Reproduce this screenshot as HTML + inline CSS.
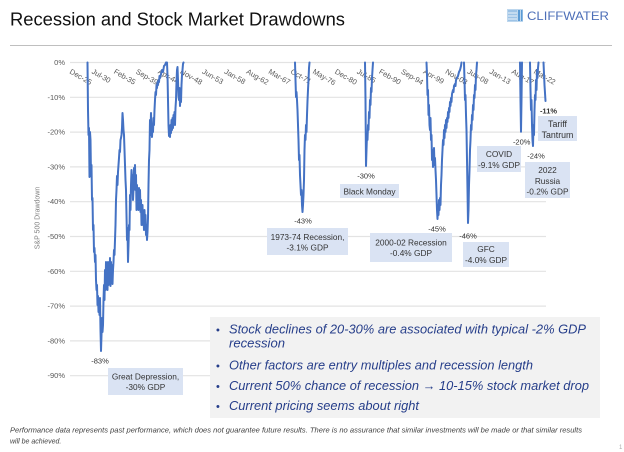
<!DOCTYPE html>
<html>
<head>
<meta charset="utf-8">
<style>
html,body{margin:0;padding:0;background:#fff;}
svg{display:block;}
text{font-family:"Liberation Sans",Arial,sans-serif;}
</style>
</head>
<body>
<svg width="624" height="452" viewBox="0 0 624 452" xmlns="http://www.w3.org/2000/svg">
<rect width="624" height="452" fill="#fff"/>
<!-- Title -->
<text x="10" y="25.5" font-size="18.5" fill="#111" textLength="335" lengthAdjust="spacingAndGlyphs">Recession and Stock Market Drawdowns</text>
<!-- Logo -->
<g>
<rect x="507" y="9" width="16" height="13" fill="#bdd7ee"/>
<rect x="508" y="10" width="9" height="11" fill="#9dc3e6"/>
<rect x="518" y="10" width="2" height="11" fill="#5b9bd5"/>
<rect x="521" y="10" width="1.5" height="11" fill="#5b9bd5"/>
<line x1="508" y1="13" x2="517" y2="13" stroke="#fff" stroke-width="0.8"/>
<line x1="508" y1="16" x2="517" y2="16" stroke="#fff" stroke-width="0.8"/>
<line x1="508" y1="19" x2="517" y2="19" stroke="#fff" stroke-width="0.8"/>
</g>
<text x="527" y="20" font-size="11.5" fill="#4d6fb8" textLength="82" lengthAdjust="spacingAndGlyphs">CLIFFWATER</text>
<!-- separator -->
<line x1="10" y1="45.5" x2="612" y2="45.5" stroke="#bfbfbf" stroke-width="1"/>

<!-- gridlines -->
<g stroke="#e3e3e3" stroke-width="1.2">
<line x1="70" y1="62.5" x2="546" y2="62.5"/>
<line x1="70" y1="97.3" x2="546" y2="97.3"/>
<line x1="70" y1="132.1" x2="546" y2="132.1"/>
<line x1="70" y1="166.9" x2="546" y2="166.9"/>
<line x1="70" y1="201.7" x2="546" y2="201.7"/>
<line x1="70" y1="236.5" x2="546" y2="236.5"/>
<line x1="70" y1="271.3" x2="546" y2="271.3"/>
<line x1="70" y1="306.1" x2="546" y2="306.1"/>
<line x1="70" y1="340.9" x2="546" y2="340.9"/>
<line x1="70" y1="375.7" x2="546" y2="375.7"/>
</g>
<!-- y labels -->
<g font-size="7.5" fill="#595959" text-anchor="end">
<text x="65" y="65">0%</text>
<text x="65" y="99.8">-10%</text>
<text x="65" y="134.6">-20%</text>
<text x="65" y="169.4">-30%</text>
<text x="65" y="204.2">-40%</text>
<text x="65" y="239">-50%</text>
<text x="65" y="273.8">-60%</text>
<text x="65" y="308.6">-70%</text>
<text x="65" y="343.4">-80%</text>
<text x="65" y="378.2">-90%</text>
</g>
<text transform="translate(39.5,218) rotate(-90)" font-size="7" fill="#7f7f7f" text-anchor="middle">S&amp;P 500 Drawdown</text>

<!-- date labels -->
<g font-size="7.5" fill="#595959">
<text transform="translate(69,73) rotate(30)">Dec-25</text>
<text transform="translate(91.1,73) rotate(30)">Jul-30</text>
<text transform="translate(113.2,73) rotate(30)">Feb-35</text>
<text transform="translate(135.3,73) rotate(30)">Sep-39</text>
<text transform="translate(157.4,73) rotate(30)">Apr-44</text>
<text transform="translate(179.5,73) rotate(30)">Nov-48</text>
<text transform="translate(201.6,73) rotate(30)">Jun-53</text>
<text transform="translate(223.7,73) rotate(30)">Jan-58</text>
<text transform="translate(245.8,73) rotate(30)">Aug-62</text>
<text transform="translate(267.9,73) rotate(30)">Mar-67</text>
<text transform="translate(290,73) rotate(30)">Oct-71</text>
<text transform="translate(312.1,73) rotate(30)">May-76</text>
<text transform="translate(334.2,73) rotate(30)">Dec-80</text>
<text transform="translate(356.3,73) rotate(30)">Jul-85</text>
<text transform="translate(378.4,73) rotate(30)">Feb-90</text>
<text transform="translate(400.5,73) rotate(30)">Sep-94</text>
<text transform="translate(422.6,73) rotate(30)">Apr-99</text>
<text transform="translate(444.7,73) rotate(30)">Nov-03</text>
<text transform="translate(466.8,73) rotate(30)">Jun-08</text>
<text transform="translate(488.9,73) rotate(30)">Jan-13</text>
<text transform="translate(511,73) rotate(30)">Aug-17</text>
<text transform="translate(533.1,73) rotate(30)">Mar-22</text>
</g>

<!-- series -->
<g fill="none" stroke="#4472c4" stroke-width="2" stroke-linejoin="round" stroke-linecap="round">
<polyline points="87.5,62.5 88,110 88.5,135 89,128 89.5,177 90,132 90.5,140 91,176 91.5,165 92,200 92.5,198 93,230 93.5,225 94,252 94.5,248 95,262 95.5,255 96,280 96.5,290 97,285 97.5,305 98,296 98.5,312 99,300 99.5,315 100,298 100.5,330 101,351 101.5,335 102,318 102.5,332 103,325 103.5,300 104,285 104.5,300 105,270 105.5,290 106,262 106.5,280 107,268 107.5,290 108,262 108.5,285 109,270 109.5,282 110,258 110.5,286 111,262 111.5,278 112,265 112.5,284 113,270 113.5,262 114,250 114.5,255 115,240 115.5,225 116,200 116.5,190 117,176 117.5,185 118,172 118.5,165 119,158 119.5,150 120,152 120.5,140 121,138 121.5,135 122,128 122.5,113 123,120 123.5,130 124,135 124.5,150 125,165 125.5,180 126,190 126.5,215 127,240 127.5,228 128,262 128.5,245 129,225 129.5,230 130,195 130.5,210 131,185 131.5,170 132,180 132.5,175 133,200 133.5,190 134,168 134.5,180 135,165 135.5,190 136,175 136.5,210 137,185 137.5,205 138,195 138.5,210 139,188 139.5,200 140,190 140.5,212 141,200 141.5,225 142,210 142.5,205 143,225 143.5,215 144,230 144.5,210 145,225 145.5,215 146,235 146.5,225 147,240 147.5,232 148,218 148.5,185 149,160 149.5,150 150,120 150.5,135 151,113 151.5,130 152,137 152.5,125 153,132 153.5,118 154,125 154.5,110 155,100 155.5,92 156,95 156.5,85 157,88 157.5,82 158,85 158.5,80 159,82 159.5,76 160,78 161,74 162,70 163,72 164,66 165,65 166,62.5 167,62.5 167.5,75 168,100 168.5,125 169,136 169.5,128 170,137 170.5,125 171,133 171.5,120 172,130 172.5,118 173,128 173.5,115 174,122 174.5,112 175,125 175.5,108 176,100 176.5,82 177,70 177.5,67 178,80 178.5,96 179,100 179.5,88 180,106 180.5,94 181,102 181.5,85 182,75 182.5,70 183,64 183.5,62.5"/>
<polyline points="295,62.5 295.5,80 296,97 296.5,92 297,100 297.5,110 298,125 298.5,140 299,160 299.5,155 300,175 300.5,185 301,195 301.5,190 302,205 302.5,212 303,205 303.5,195 304,180 304.5,150 305,135 305.5,140 306,125 306.5,132 307,115 307.5,101 308,90 308.5,80 309,68 309.5,62.5"/>
<polyline points="365,62.5 365.5,100 366,166 366.5,150 367,135 367.5,140 368,125 368.5,130 369,112 369.5,118 370,100 370.5,105 371,88 371.5,92 372,78 372.5,70 373,62.5"/>
<polyline points="426.5,62.5 427,75 427.5,95 428,90 428.5,115 429,105 429.5,125 430,130 430.5,118 431,140 431.5,135 432,160 432.5,150 433,167 433.5,155 434,148 434.5,165 435,158 435.5,170 436,180 436.5,195 437,210 437.5,219 438,205 438.5,215 439,200 439.5,210 440,198 440.5,205 441,185 441.5,175 442,160 442.5,150 443,140 443.5,145 444,130 444.5,138 445,125 445.5,132 446,120 446.5,128 447,118 447.5,122 448,112 448.5,118 449,108 449.5,112 450,102 450.5,106 451,98 451.5,102 452,94 453,90 453.5,92 454,86 455,84 455.5,86 456,80 457,78 458,76 459,72 460,70 461,66 461.5,62.5"/>
<polyline points="464,62.5 464.5,80 465,100 465.5,95 466,115 466.5,130 467,160 467.5,190 468,223 468.5,210 469,185 469.5,170 470,150 470.5,140 471,125 471.5,130 472,115 472.5,120 473,105 473.5,110 474,95 474.5,98 475,85 475.5,90 476,75 476.5,70 477,62.5"/>
<polyline points="520,62.5 520.5,100 521,131.7 521.5,100 522,62.5"/>
<polyline points="530,62.5 530.5,90 531,110 531.5,100 532,125 532.5,140 533,146 533.5,125 534,135 534.5,110 535,95 535.5,100 536,80 536.5,90 537,70 537.5,78 538,68 538.5,62.5"/>
<polyline points="543.5,62.5 544.5,85 545.5,101"/>
</g>

<!-- value labels -->
<g font-size="7.5" fill="#333" text-anchor="middle">
<text x="100" y="363.5">-83%</text>
<text x="303" y="223.5">-43%</text>
<text x="366" y="178.5">-30%</text>
<text x="437" y="231.5">-45%</text>
<text x="468" y="238.5">-46%</text>
<text x="521.7" y="144.5">-20%</text>
<text x="536" y="158.5">-24%</text>
<text x="548.5" y="113.5" font-weight="bold">-11%</text>
</g>

<!-- annotation boxes -->
<g fill="#dae3f3">
<rect x="108" y="368" width="75" height="27"/>
<rect x="267" y="228" width="81" height="27"/>
<rect x="340" y="184" width="59" height="14"/>
<rect x="370" y="233" width="82" height="29"/>
<rect x="463" y="242" width="46" height="25"/>
<rect x="477" y="146" width="44" height="26"/>
<rect x="525" y="162" width="45" height="36"/>
<rect x="538" y="116" width="39" height="25"/>
</g>
<g font-size="8.3" fill="#333" text-anchor="middle">
<text x="145.5" y="379.7">Great Depression,</text>
<text x="145.5" y="390">-30% GDP</text>
<text x="307.5" y="240">1973-74 Recession,</text>
<text x="307.5" y="250.5">-3.1% GDP</text>
<text x="369.5" y="194.5">Black Monday</text>
<text x="411" y="245.7">2000-02 Recession</text>
<text x="411" y="256">-0.4% GDP</text>
<text x="486" y="252">GFC</text>
<text x="486" y="263">-4.0% GDP</text>
<text x="499" y="157">COVID</text>
<text x="499" y="168">-9.1% GDP</text>
<text x="547.5" y="173">2022</text>
<text x="547.5" y="184">Russia</text>
<text x="547.5" y="194.7">-0.2% GDP</text>
<text x="557.5" y="127" font-size="8.8">Tariff</text>
<text x="557.5" y="138" font-size="8.8">Tantrum</text>
</g>

<!-- bullet box -->
<rect x="210" y="317" width="390" height="101" fill="#f2f2f2"/>
<g font-size="12.5" fill="#263e8a" font-style="italic">
<text x="216" y="333.5" font-style="normal" font-size="11">•</text>
<text x="229" y="333.5" textLength="357" lengthAdjust="spacingAndGlyphs">Stock declines of 20-30% are associated with typical -2% GDP</text>
<text x="229" y="347.5" textLength="56" lengthAdjust="spacingAndGlyphs">recession</text>
<text x="216" y="369.5" font-style="normal" font-size="11">•</text>
<text x="229" y="369.5" textLength="304" lengthAdjust="spacingAndGlyphs">Other factors are entry multiples and recession length</text>
<text x="216" y="390" font-style="normal" font-size="11">•</text>
<text x="229" y="390" textLength="360" lengthAdjust="spacingAndGlyphs">Current 50% chance of recession → 10-15% stock market drop</text>
<text x="216" y="410" font-style="normal" font-size="11">•</text>
<text x="229" y="410" textLength="190" lengthAdjust="spacingAndGlyphs">Current pricing seems about right</text>
</g>

<!-- footnote -->
<g font-size="7" fill="#404040" font-style="italic">
<text x="10" y="432.5" textLength="572" lengthAdjust="spacingAndGlyphs">Performance data represents past performance, which does not guarantee future results. There is no assurance that similar investments will be made or that similar results</text>
<text x="10" y="443.5">will be achieved.</text>
</g>
<text x="619" y="449" font-size="6" fill="#aaa">1</text>
</svg>
</body>
</html>
